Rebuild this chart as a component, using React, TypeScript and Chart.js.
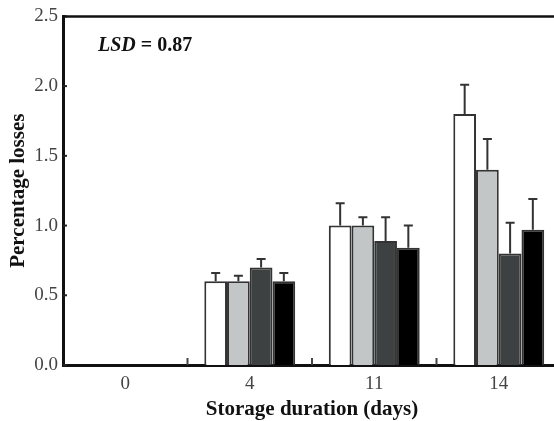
import React, { useEffect, useRef } from "react";
import { Chart, registerables } from "chart.js";

Chart.register(...registerables);

const categories = ["0", "4", "11", "14"];
const seriesNames = ["Treatment A", "Treatment B", "Treatment C", "Treatment D"];
const valuesA = [0, 0.6, 1.0, 1.8];
const valuesB = [0, 0.6, 1.0, 1.4];
const valuesC = [0, 0.7, 0.89, 0.8];
const valuesD = [0, 0.6, 0.84, 0.97];
const errorsA = [0, 0.06, 0.16, 0.21];
const errorsB = [0, 0.04, 0.06, 0.22];
const errorsC = [0, 0.06, 0.17, 0.22];
const errorsD = [0, 0.06, 0.16, 0.22];
const yTicks = [0, 0.5, 1.0, 1.5, 2.0, 2.5];
const fills = ["#ffffff", "#c3c6c6", "#3e4141", "#000000"];

const SERIF = "'Liberation Serif', 'Times New Roman', serif";

const allValues = [valuesA, valuesB, valuesC, valuesD];
const allErrors = [errorsA, errorsB, errorsC, errorsD];

const decorPlugin = {
  id: "decor",
  afterDatasetsDraw(chart: any) {
    const ctx = chart.ctx;
    const x = chart.scales.x;
    const y = chart.scales.y;
    const area = chart.chartArea;
    ctx.save();
    // error bars
    chart.data.datasets.forEach((ds: any, di: number) => {
      const meta = chart.getDatasetMeta(di);
      meta.data.forEach((el: any, i: number) => {
        const v = ds.data[i];
        const e = ds.errors[i];
        if (!v || !e) return;
        const top = y.getPixelForValue(v + e);
        ctx.strokeStyle = "#333333";
        ctx.lineWidth = 2;
        ctx.beginPath();
        ctx.moveTo(el.x, el.y);
        ctx.lineTo(el.x, top);
        ctx.moveTo(el.x - 4.5, top);
        ctx.lineTo(el.x + 4.5, top);
        ctx.stroke();
      });
    });
    // x category separator ticks (inward)
    ctx.strokeStyle = "#444444";
    ctx.lineWidth = 2;
    for (let i = 1; i < categories.length; i++) {
      const px = (x.getPixelForValue(i - 1) + x.getPixelForValue(i)) / 2;
      ctx.beginPath();
      ctx.moveTo(px, area.bottom);
      ctx.lineTo(px, area.bottom - 7);
      ctx.stroke();
    }
    // y ticks inward
    ctx.strokeStyle = "#222222";
    yTicks.forEach((t) => {
      const py = y.getPixelForValue(t);
      ctx.beginPath();
      ctx.moveTo(area.left, py);
      ctx.lineTo(area.left + 4, py);
      ctx.stroke();
    });
    // top border
    ctx.strokeStyle = "#111111";
    ctx.lineWidth = 2.5;
    ctx.beginPath();
    ctx.moveTo(area.left, area.top);
    ctx.lineTo(area.right + 20, area.top);
    ctx.stroke();
    // LSD annotation
    ctx.fillStyle = "#111111";
    ctx.textBaseline = "alphabetic";
    ctx.textAlign = "left";
    ctx.font = `italic bold 20px ${SERIF}`;
    const lx = area.left + 35;
    const ly = area.top + 35;
    ctx.fillText("LSD", lx, ly);
    const w = ctx.measureText("LSD").width;
    ctx.font = `bold 20px ${SERIF}`;
    ctx.fillText(" = 0.87", lx + w, ly);
    ctx.restore();
  },
};

export default function App() {
  const ref = useRef<HTMLCanvasElement>(null);
  useEffect(() => {
    if (!ref.current) return;
    const chart = new Chart(ref.current, {
      type: "bar",
      data: {
        labels: categories,
        datasets: allValues.map((vals, i) => ({
          label: seriesNames[i],
          data: vals,
          errors: allErrors[i],
          backgroundColor: fills[i],
          borderColor: "#333333",
          borderWidth: (c: any) => (c.raw ? 2 : 0),
          categoryPercentage: 0.73,
          barPercentage: 1,
        })) as any,
      },
      options: {
        responsive: false,
        animation: false,
        devicePixelRatio: 1,
        layout: { padding: { top: 16, right: 19, left: 0, bottom: 0 } },
        plugins: { legend: { display: false }, tooltip: { enabled: false } },
        scales: {
          x: {
            grid: { display: false, drawTicks: false },
            border: { display: true, color: "#111111", width: 3 },
            ticks: { color: "#444444", font: { family: SERIF, size: 19 }, padding: 8 },
            title: {
              display: true,
              text: "Storage duration (days)",
              color: "#111111",
              font: { family: SERIF, size: 21, weight: "bold" },
              padding: { top: 0, bottom: -1 },
            },
            afterFit: (s: any) => {
              s.height = 56;
            },
          },
          y: {
            min: 0,
            max: 2.5,
            afterBuildTicks: (s: any) => {
              s.ticks = yTicks.map((v) => ({ value: v }));
            },
            grid: { display: false, drawTicks: false },
            border: { display: true, color: "#111111", width: 3 },
            ticks: {
              color: "#444444",
              font: { family: SERIF, size: 19 },
              padding: 5,
              callback: (v: any) => Number(v).toFixed(1),
            },
            title: {
              display: true,
              text: "Percentage losses",
              color: "#111111",
              font: { family: SERIF, size: 21, weight: "bold" },
              padding: { top: 6, bottom: 0 },
            },
            afterFit: (s: any) => {
              s.width = 63;
            },
          },
        },
      },
      plugins: [decorPlugin],
    } as any);
    return () => chart.destroy();
  }, []);
  return (
    <div
      style={{
        position: "absolute",
        left: 0,
        top: 0,
        width: 554,
        height: 421,
        overflow: "hidden",
        background: "#fff",
      }}
    >
      <canvas ref={ref} width={580} height={421} style={{ width: 580, height: 421, display: "block" }} />
    </div>
  );
}
